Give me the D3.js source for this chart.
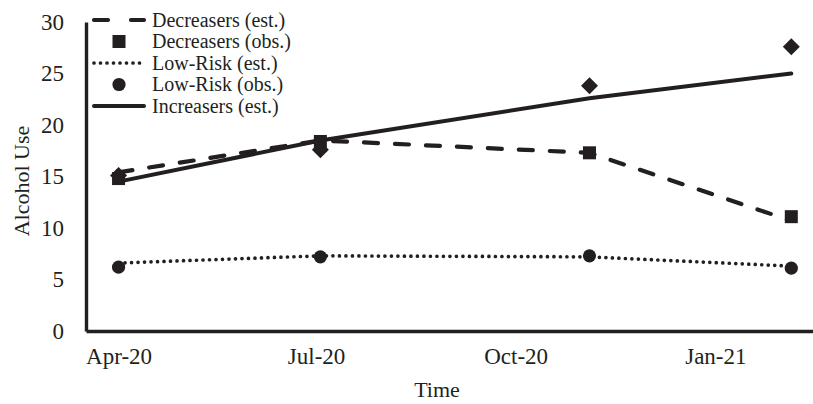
<!DOCTYPE html>
<html>
<head>
<meta charset="utf-8">
<script src="https://cdn.jsdelivr.net/npm/d3@7"></script>
<style>
  body { margin: 0; background: #fff; }
  text { font-family: "Liberation Serif", "DejaVu Serif", serif; fill: #231f20; }
</style>
</head>
<body>
<div id="chart"></div>
<script>
// survey waves (dates) and tick labels
const waves = ['2020-04-01', '2020-07-03', '2020-11-04', '2021-02-05'];
const tickDates = ['2020-04-01', '2020-07-01', '2020-10-01', '2021-01-01'];
const yTicks = [0, 5, 10, 15, 20, 25, 30];

// values
const decreasersEst = [15.4, 18.5, 17.3, 10.7];
const decreasersObs = [14.8, 18.4, 17.3, 11.1];
const lowRiskEst = [6.6, 7.3, 7.2, 6.3];
const lowRiskObs = [6.2, 7.2, 7.3, 6.1];
const increasersEst = [14.5, 18.5, 22.6, 25.0];
const increasersObs = [15.1, 17.6, 23.8, 27.6];

const legendLabels = ['Decreasers (est.)', 'Decreasers (obs.)', 'Low-Risk (est.)', 'Low-Risk (obs.)', 'Increasers (est.)'];

const ink = '#231f20';
const width = 813, height = 404;
const margin = { top: 22, right: 0, bottom: 73, left: 86 };

const parse = d3.timeParse('%Y-%m-%d');
const dates = waves.map(parse);

const svg = d3.select('#chart').append('svg')
  .attr('width', width)
  .attr('height', height);

const x = d3.scaleTime()
  .domain([parse('2020-03-17'), parse('2021-02-15')])
  .range([margin.left, width - margin.right]);

const y = d3.scaleLinear()
  .domain([0, 30])
  .range([height - margin.bottom, margin.top]);

// axes
const xAxis = svg.append('g')
  .attr('transform', `translate(0,${y(0)})`)
  .call(d3.axisBottom(x)
    .tickValues(tickDates.map(parse))
    .tickFormat(d3.timeFormat('%b-%y'))
    .tickSize(0)
    .tickPadding(17));

const yAxis = svg.append('g')
  .attr('transform', `translate(${margin.left},0)`)
  .call(d3.axisLeft(y)
    .tickValues(yTicks)
    .tickSize(0)
    .tickPadding(22));

[xAxis, yAxis].forEach(g => {
  g.select('.domain').attr('stroke', ink).attr('stroke-width', 3.4);
  g.selectAll('text')
    .style('font-family', '"Liberation Serif", serif')
    .style('font-size', '23px')
    .attr('fill', ink);
});

svg.append('text')
  .attr('x', 437)
  .attr('y', 397)
  .attr('text-anchor', 'middle')
  .style('font-size', '22px')
  .text('Time');

svg.append('text')
  .attr('transform', 'translate(29,181) rotate(-90)')
  .attr('text-anchor', 'middle')
  .style('font-size', '22px')
  .text('Alcohol Use');

// lines
const line = d3.line()
  .x((d, i) => x(dates[i]))
  .y(d => y(d));

const dashed = { dash: '14,17', cap: 'round', w: 4.2 };
const dotted = { dash: '0,6.5', cap: 'round', w: 3.7 };
const solid = { dash: null, cap: 'round', w: 4 };

function drawLine(values, style) {
  svg.append('path')
    .datum(values)
    .attr('d', line)
    .attr('fill', 'none')
    .attr('stroke', ink)
    .attr('stroke-width', style.w)
    .attr('stroke-linecap', style.cap)
    .attr('stroke-dasharray', style.dash);
}

drawLine(lowRiskEst, dotted);
drawLine(decreasersEst, dashed);
drawLine(increasersEst, solid);

// markers
const square = 13, circleR = 6.6, diamond = 8.5;

svg.selectAll('.sq')
  .data(decreasersObs)
  .join('rect')
  .attr('class', 'sq')
  .attr('x', (d, i) => x(dates[i]) - square / 2)
  .attr('y', d => y(d) - square / 2)
  .attr('width', square)
  .attr('height', square)
  .attr('fill', ink);

svg.selectAll('.dot')
  .data(lowRiskObs)
  .join('circle')
  .attr('class', 'dot')
  .attr('cx', (d, i) => x(dates[i]))
  .attr('cy', d => y(d))
  .attr('r', circleR)
  .attr('fill', ink);

svg.selectAll('.dia')
  .data(increasersObs)
  .join('path')
  .attr('class', 'dia')
  .attr('transform', (d, i) => `translate(${x(dates[i])},${y(d)})`)
  .attr('d', `M0,${-diamond}L${diamond},0L0,${diamond}L${-diamond},0Z`)
  .attr('fill', ink);

// legend
const legend = svg.append('g').attr('transform', 'translate(92,20)');
const rowH = 21.5;
const kinds = ['dashed', 'square', 'dotted', 'circle', 'solid'];

legendLabels.forEach((label, i) => {
  const g = legend.append('g').attr('transform', `translate(0,${i * rowH})`);
  const kind = kinds[i];
  if (kind === 'dashed' || kind === 'dotted' || kind === 'solid') {
    const st = kind === 'dashed' ? { dash: '14,23', cap: 'round', w: 4.2 } : kind === 'dotted' ? dotted : solid;
    g.append('line')
      .attr('x1', 2).attr('x2', 52)
      .attr('y1', 0).attr('y2', 0)
      .attr('stroke', ink)
      .attr('stroke-width', st.w)
      .attr('stroke-linecap', st.cap)
      .attr('stroke-dasharray', st.dash);
  } else if (kind === 'square') {
    g.append('rect')
      .attr('x', 27 - square / 2).attr('y', -square / 2)
      .attr('width', square).attr('height', square)
      .attr('fill', ink);
  } else {
    g.append('circle').attr('cx', 27).attr('cy', 0).attr('r', circleR).attr('fill', ink);
  }
  g.append('text')
    .attr('x', 60)
    .attr('y', 6.5)
    .style('font-size', '20px')
    .text(label);
});
</script>
</body>
</html>
